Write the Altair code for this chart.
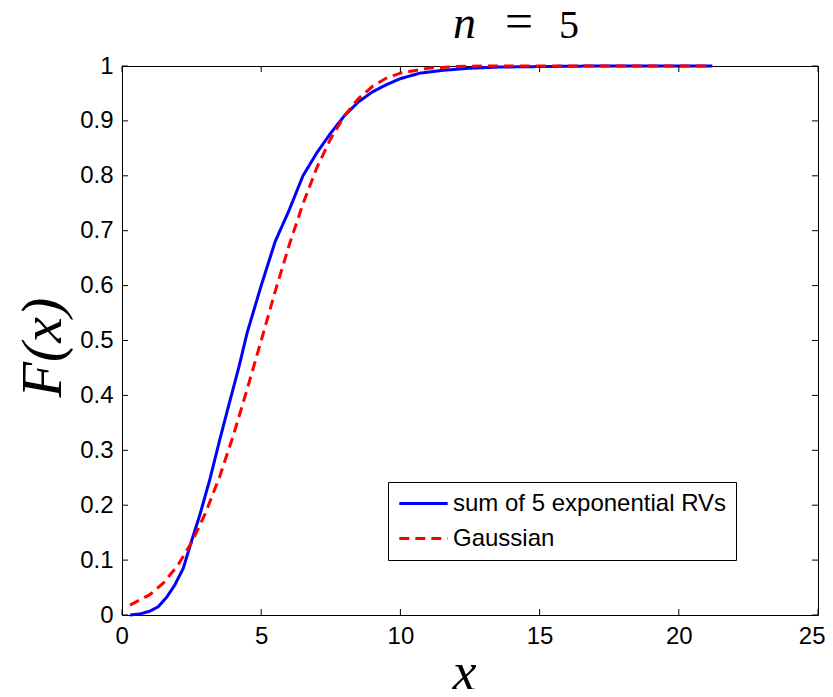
import altair as alt
import pandas as pd

series_names = ["sum of 5 exponential RVs", "Gaussian"]
series_colors = ["#0000ff", "#ff0000"]

blue_x = [0.29, 0.65, 1.0, 1.3, 1.6, 1.9, 2.2, 2.5, 2.8, 3.15, 3.5, 3.85, 4.2, 4.5,
          5.0, 5.5, 6.0, 6.5, 7.0, 7.5, 8.0, 8.5, 9.0, 9.5, 10.0, 10.7, 11.5, 12.5,
          13.5, 15.0, 17.0, 21.2]
blue_F = [0.0, 0.002, 0.007, 0.015, 0.032, 0.055, 0.085, 0.135, 0.183, 0.246, 0.317,
          0.385, 0.452, 0.515, 0.600, 0.680, 0.737, 0.800, 0.842, 0.878, 0.910, 0.935,
          0.953, 0.966, 0.977, 0.987, 0.992, 0.996, 0.998, 0.999, 1.0, 1.0]

gauss_x = [0.29, 1.0, 1.5, 2.0, 2.5, 3.0, 3.5, 4.0, 4.5, 5.0, 5.5, 6.0, 6.5, 7.0, 7.5,
           8.0, 8.5, 9.0, 9.5, 10.0, 11.0, 12.0, 13.0, 15.0, 21.2]
gauss_F = [0.018, 0.037, 0.059, 0.090, 0.132, 0.186, 0.251, 0.327, 0.412, 0.500, 0.589,
           0.673, 0.749, 0.815, 0.868, 0.910, 0.941, 0.963, 0.978, 0.987, 0.996, 0.999,
           1.0, 1.0, 1.0]

x_ticks = [0, 5, 10, 15, 20, 25]
y_ticks = [0, 0.1, 0.2, 0.3, 0.4, 0.5, 0.6, 0.7, 0.8, 0.9, 1]

df = pd.concat([
    pd.DataFrame({"x": blue_x, "F": blue_F, "s": series_names[0]}),
    pd.DataFrame({"x": gauss_x, "F": gauss_F, "s": series_names[1]}),
], ignore_index=True)
df["order"] = range(len(df))

W, H = 696, 549
xscale = alt.Scale(domain=[0, 25], nice=False, zero=False)
yscale = alt.Scale(domain=[0, 1], nice=False)

legend = alt.Legend(
    title=None, orient="none", legendX=266, legendY=416,
    strokeColor="black", fillColor="white", padding=9, cornerRadius=0,
    symbolType="M-2.2,0H2.2", symbolSize=484, symbolStrokeWidth=3,
    symbolOffset=14, labelOffset=17,
    labelFont="Liberation Sans", labelFontSize=24, labelColor="black",
    rowPadding=10, labelLimit=400,
)

lines = alt.Chart(df).mark_line(strokeWidth=3).encode(
    x=alt.X("x:Q", scale=xscale, axis=alt.Axis(
        values=x_ticks, title="x", titleX=342, titleY=74,
        titleBaseline="alphabetic", titleAlign="center",
        titleFont="Liberation Serif", titleFontStyle="italic",
        titleFontSize=54, titleFontWeight="normal", labelPadding=9,
        labelFlush=True, labelFlushOffset=7)),
    y=alt.Y("F:Q", scale=yscale, axis=alt.Axis(
        values=y_ticks, format="~g", title="F(x)", titleX=-62, titleY=281,
        titleAngle=270, titleBaseline="alphabetic", titleAlign="center",
        titleFont="Liberation Serif", titleFontStyle="italic",
        titleFontSize=58, titleFontWeight="normal", labelPadding=9,
        labelFlush=False)),
    color=alt.Color("s:N", scale=alt.Scale(domain=series_names, range=series_colors),
                    legend=legend),
    strokeDash=alt.StrokeDash("s:N", scale=alt.Scale(domain=series_names,
                                                     range=[[1, 0], [10, 6]]),
                              legend=legend),
    order="order:Q",
)

xt = pd.DataFrame({"x": x_ticks})
yt = pd.DataFrame({"F": y_ticks})
tick_style = dict(color="black", strokeWidth=1)
bottom_ticks = alt.Chart(xt).mark_rule(**tick_style).encode(
    x=alt.X("x:Q", scale=xscale), y=alt.value(H), y2=alt.value(H - 6))
top_ticks = alt.Chart(xt).mark_rule(**tick_style).encode(
    x=alt.X("x:Q", scale=xscale), y=alt.value(0), y2=alt.value(6))
left_ticks = alt.Chart(yt).mark_rule(**tick_style).encode(
    y=alt.Y("F:Q", scale=yscale), x=alt.value(0), x2=alt.value(6))
right_ticks = alt.Chart(yt).mark_rule(**tick_style).encode(
    y=alt.Y("F:Q", scale=yscale), x=alt.value(W), x2=alt.value(W - 6))

def label(txt, xpos, style, align, size=40):
    return alt.Chart(pd.DataFrame({"t": [txt]})).mark_text(
        font="Liberation Serif", fontStyle=style, fontSize=size, align=align,
        baseline="alphabetic", color="black").encode(
        x=alt.value(xpos), y=alt.value(-28), text="t:N")

title_n = label("n", 331, "italic", "left", 46)
title_eq = label("=", 397, "normal", "center", 50)
title_5 = label("5", 447, "normal", "center", 40)

chart = alt.layer(
    lines, bottom_ticks, top_ticks, left_ticks, right_ticks,
    title_n, title_eq, title_5,
).properties(
    width=W, height=H,
    autosize=alt.AutoSizeParams(type="none"),
    padding={"left": 114, "top": 58, "right": 7, "bottom": 74},
).configure_view(
    stroke="black", strokeWidth=1
).configure_axis(
    domain=False, ticks=False, grid=False,
    labelFont="Liberation Sans", labelFontSize=24, labelColor="black",
    titleColor="black",
)

chart.save("out.html", embed_options={"renderer": "svg", "actions": False})
